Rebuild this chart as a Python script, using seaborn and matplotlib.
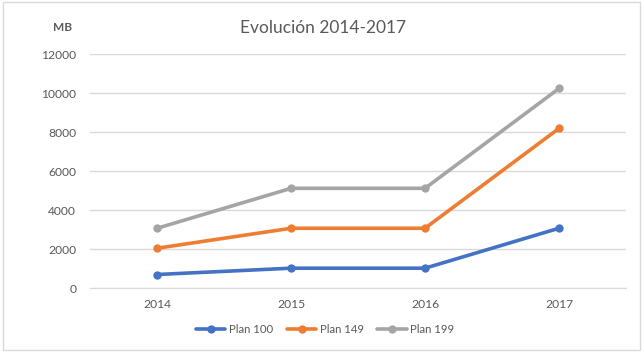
import pandas as pd
import matplotlib
matplotlib.use('Agg')
import matplotlib.pyplot as plt
from matplotlib.patches import Rectangle
import seaborn as sns

# datos
years = ['2014', '2015', '2016', '2017']
plan_100 = [700, 1024, 1024, 3072]
plan_149 = [2048, 3072, 3072, 8192]
plan_199 = [3072, 5120, 5120, 10240]
series_names = ['Plan 100', 'Plan 149', 'Plan 199']
colors = ['#4472C4', '#ED7D31', '#A5A5A5']

df = pd.DataFrame({
    'year': years * 3,
    'MB': plan_100 + plan_149 + plan_199,
    'plan': [s for s in series_names for _ in years],
})

sns.set_style('white')
plt.rcParams['font.family'] = ['Lato', 'DejaVu Sans']

fig = plt.figure(figsize=(6.44, 3.54), dpi=100)
ax = fig.add_axes([0.14, 0.186, 0.832, 0.661])

sns.lineplot(data=df, x='year', y='MB', hue='plan', palette=colors,
             marker='o', markersize=6, markeredgewidth=0, linewidth=2.6,
             sort=False, ax=ax)

ax.set_ylim(0, 12000)
ax.set_xlim(-0.5, 3.5)
ax.set_yticks(range(0, 12001, 2000))
ax.yaxis.grid(True, color='#D9D9D9', linewidth=1)
ax.set_axisbelow(True)
for s in ['top', 'right', 'left']:
    ax.spines[s].set_visible(False)
ax.spines['bottom'].set_color('#D9D9D9')
ax.tick_params(axis='both', length=0, labelsize=8.7, colors='#595959', pad=8)
ax.tick_params(axis='y', pad=10)
ax.set_xlabel('')
ax.set_ylabel('')

fig.text(0.502, 0.92, 'Evolución 2014-2017', ha='center', va='center',
         fontsize=12.5, color='#595959')
fig.text(0.097, 0.923, 'MB', ha='center', va='center', fontsize=8.5,
         fontweight='bold', color='#595959')

ax.get_legend().remove()
handles, labels = ax.get_legend_handles_labels()
leg = fig.legend(handles, labels, loc='center', bbox_to_anchor=(0.505, 0.068),
                 ncol=3, frameon=False, fontsize=8.2, handlelength=2.6,
                 columnspacing=1.2, handletextpad=0.3)
for t in leg.get_texts():
    t.set_color('#595959')

fig.patches.append(Rectangle((0.004, 0.01), 0.99, 0.983, transform=fig.transFigure,
                             fill=False, edgecolor='#D9D9D9', linewidth=1))

plt.savefig('out.png', dpi=100)
